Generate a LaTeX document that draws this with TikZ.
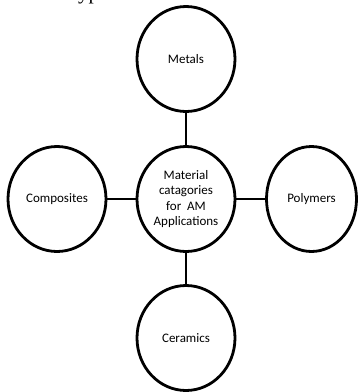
\documentclass[tikz,border=0pt]{standalone}
\usepackage{fontspec}
\setmainfont{Carlito}
\newfontfamily\capfont{Liberation Serif}
\usetikzlibrary{shapes.geometric}
\begin{document}
\begin{tikzpicture}[x=1pt,y=-1pt,
  cat/.style={ellipse,draw=black,line width=2.8pt,minimum width=98pt,minimum height=105pt,inner sep=0pt,
    font=\fontsize{13}{15.5}\selectfont,align=center,text=black},
  link/.style={line width=2.8pt}]
\useasboundingbox (0,0) rectangle (360,392);
\begin{scope}
\clip (0,0) rectangle (360,392);
\node[font=\capfont\fontsize{21}{24}\selectfont,anchor=base west,inner sep=0pt] (cap) at (72,-1) {types};
\node[cat] (metals) at (186,59) {Metals};
\node[cat] (center) at (186,199) {Material\\catagories\\for\ \ AM\\Applications};
\node[cat] (comp) at (57,199) {Composites};
\node[cat,minimum width=90pt] (poly) at (311.5,199) {Polymers};
\node[cat] (cer) at (186,338) {Ceramics};
\draw[link] (metals) -- (center);
\draw[link] (comp) -- (center);
\draw[link] (center) -- (poly);
\draw[link] (center) -- (cer);
\end{scope}
\end{tikzpicture}
\end{document}
